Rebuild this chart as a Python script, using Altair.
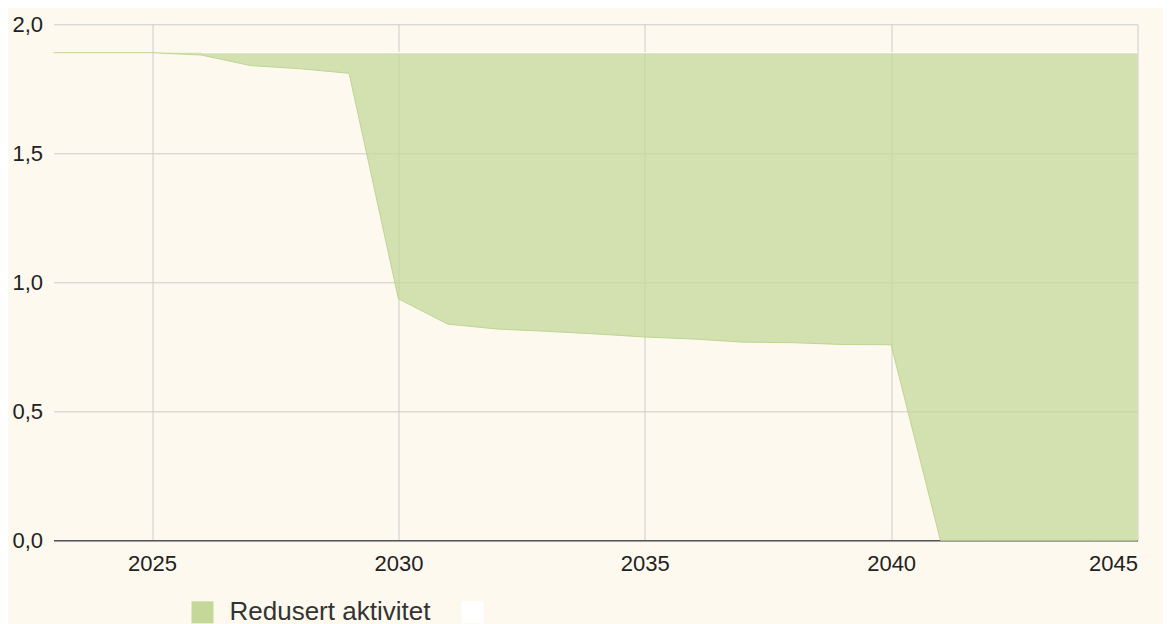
import altair as alt
import pandas as pd

years = [2023, 2024, 2025, 2026, 2027, 2028, 2029, 2030, 2031, 2032, 2033, 2034,
         2035, 2036, 2037, 2038, 2039, 2040, 2041, 2042, 2043, 2044, 2045]
lower = [1.89, 1.89, 1.89, 1.881, 1.840, 1.828, 1.810, 0.936, 0.838, 0.819, 0.810, 0.800,
         0.788, 0.780, 0.768, 0.766, 0.759, 0.758, 0.0, 0.0, 0.0, 0.0, 0.0]
upper = [1.89, 1.89, 1.89, 1.89, 1.89, 1.89, 1.89, 1.89, 1.89, 1.89, 1.89, 1.89,
         1.89, 1.89, 1.89, 1.89, 1.89, 1.89, 1.89, 1.89, 1.89, 1.89, 1.89]
series_names = ["Redusert aktivitet", " "]
series_colors = ["#c3d899", "#ffffff"]
x_ticks = [2025, 2030, 2035, 2040, 2045]
y_ticks = [0, 0.5, 1.0, 1.5, 2.0]

df = pd.DataFrame({"year": years, "lower": lower, "upper": upper})
df["series"] = series_names[0]

x_enc = alt.X(
    "year:Q",
    scale=alt.Scale(domain=[2023, 2045], nice=False, zero=False),
    axis=alt.Axis(
        values=x_ticks, format="d", title=None, ticks=False, labelPadding=13,
        labelFontSize=22, labelColor="#222222", labelFont="Liberation Sans",
        grid=True, gridColor="#cccccc", gridWidth=1,
        domainColor="#555555", domainWidth=1.5,
    ),
)
y_axis = alt.Axis(
    values=y_ticks, title=None, ticks=False, domain=False, labelPadding=11,
    labelFontSize=22, labelColor="#222222", labelFont="Liberation Sans",
    grid=True, gridColor="#cccccc", gridWidth=1,
    labelExpr="replace(format(datum.value, '.1f'), '.', ',')",
)
y_scale = alt.Scale(domain=[0, 2], nice=False)

base = alt.Chart(df)

area = base.mark_area(opacity=0.75).encode(
    x=x_enc,
    y=alt.Y("lower:Q", scale=y_scale, axis=y_axis),
    y2="upper:Q",
    color=alt.Color(
        "series:N",
        scale=alt.Scale(domain=series_names, range=series_colors),
        legend=alt.Legend(
            orient="none", legendX=136, legendY=575, direction="horizontal",
            title=None, symbolType="square", symbolSize=484, symbolStrokeWidth=0,
            symbolOpacity=1, labelFontSize=26, labelOffset=14, columnPadding=29,
            labelLimit=500, labelColor="#333333", labelFont="Liberation Sans",
            padding=0,
        ),
    ),
)

lower_line = base.mark_line(color="#bdd592", strokeWidth=1).encode(
    x="year:Q", y="lower:Q"
)

top_line = base.transform_filter("datum.year >= 2026").mark_line(
    color="#ffffff", strokeWidth=1.2
).encode(x="year:Q", y="upper:Q")

chart = (
    alt.layer(area, lower_line, top_line)
    .properties(
        width=1084, height=516,
        autosize=alt.AutoSizeParams(type="none"),
        padding={"left": 45.5, "top": 16.3, "right": 25, "bottom": 83.7},
    )
    .configure(background="#fef9ee")
    .configure_view(stroke=None)
)

chart.save("out.html", embed_options={"renderer": "svg", "actions": False})
